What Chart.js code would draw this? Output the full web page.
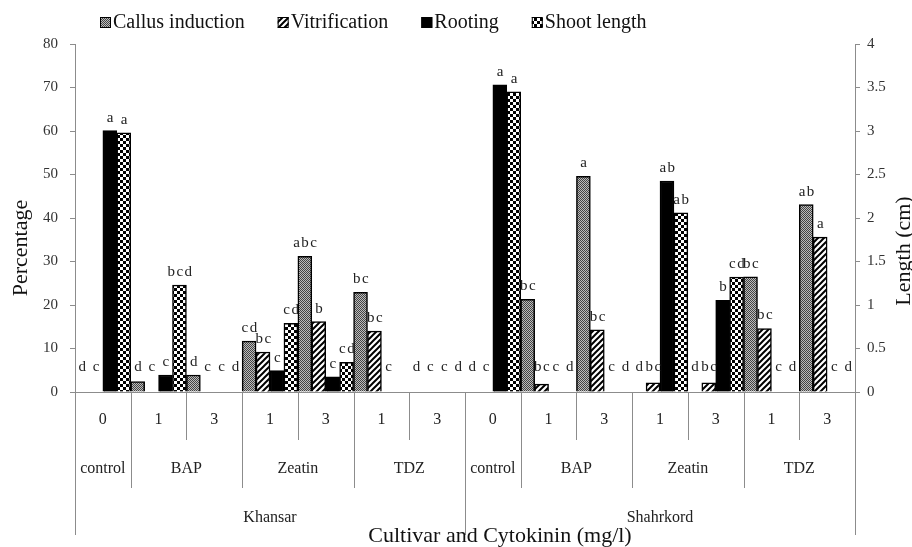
<!DOCTYPE html>
<html>
<head>
<meta charset="utf-8">
<script src="https://cdn.jsdelivr.net/npm/chart.js@4.4.1/dist/chart.umd.min.js"></script>
<style>
  body { margin: 0; background: #fff; }
  #wrap { width: 912px; height: 547px; }
</style>
</head>
<body>
<div id="wrap"><canvas id="myChart" width="912" height="547"></canvas></div>
<script>
// categories (three level x axis)
const doses      = ['0','1','3','1','3','1','3','0','1','3','1','3','1','3'];
const cytokinins = ['control','BAP','BAP','Zeatin','Zeatin','TDZ','TDZ',
                    'control','BAP','BAP','Zeatin','Zeatin','TDZ','TDZ'];
const cultivars  = ['Khansar','Khansar','Khansar','Khansar','Khansar','Khansar','Khansar',
                    'Shahrkord','Shahrkord','Shahrkord','Shahrkord','Shahrkord','Shahrkord','Shahrkord'];

// series (percentage axis)
const callus        = [0, 2.4, 3.9, 11.7, 31.2, 22.9, 0, 0, 21.3, 49.6, 0, 0, 26.5, 43.1];
const vitrification = [0, 0, 0, 9.2, 16.2, 14.0, 0, 0, 1.8, 14.3, 2.1, 2.1, 14.6, 35.6];
const rooting       = [60.1, 3.9, 0, 4.9, 3.5, 0, 0, 70.6, 0, 0, 48.5, 21.1, 0, 0];
// series (length axis, cm)
const shootLength   = [2.98, 1.23, 0, 0.79, 0.34, 0, 0, 3.45, 0, 0, 2.06, 1.32, 0, 0];

// significance letters above the bars
const callusLetters = ['d','d','d','cd','abc','bc','d','d','bc','a','d','d','bc','ab'];
const vitLetters    = ['c','c','c','bc','b','bc','c','c','bc','bc','bc','bc','bc','a'];
const rootLetters   = ['a','c','c','c','c','c','c','a','c','c','ab','b','c','c'];
const shootLetters  = ['a','bcd','d','cd','cd','','d','a','d','d','ab','cd','d','d'];

const leftTicks  = [0, 80, 10];
const rightTicks = [0, 4, 0.5];

const SERIF = '"Liberation Serif", "Times New Roman", serif';
const GRAY = '#8c8c8c';

const canvas = document.getElementById('myChart');
const ctx = canvas.getContext('2d');

function makePattern(size, draw) {
  const c = document.createElement('canvas');
  c.width = size; c.height = size;
  const g = c.getContext('2d');
  draw(g, size);
  return ctx.createPattern(c, 'repeat');
}

const dotted = makePattern(2, (g) => {
  g.fillStyle = '#bcbcbc'; g.fillRect(0, 0, 2, 2);
  g.fillStyle = '#444'; g.fillRect(0, 0, 1, 1); g.fillRect(1, 1, 1, 1);
});
const hatched = makePattern(6, (g, s) => {
  g.fillStyle = '#fff'; g.fillRect(0, 0, s, s);
  g.strokeStyle = '#000'; g.lineWidth = 2;
  g.beginPath();
  g.moveTo(0, s); g.lineTo(s, 0);
  g.moveTo(-2, 2); g.lineTo(2, -2);
  g.moveTo(s - 2, s + 2); g.lineTo(s + 2, s - 2);
  g.stroke();
});
const checker = makePattern(6, (g) => {
  g.fillStyle = '#fff'; g.fillRect(0, 0, 6, 6);
  g.fillStyle = '#000'; g.fillRect(0, 0, 3, 3); g.fillRect(3, 3, 3, 3);
});

const letters = [callusLetters, vitLetters, rootLetters, shootLetters];

const decorations = {
  id: 'decorations',
  afterDraw(chart) {
    const c = chart.ctx;
    const area = chart.chartArea;
    const xs = chart.scales.x;
    const n = doses.length;
    c.save();

    // letters above bars
    const zeroY = chart.scales.y.getPixelForValue(0);
    c.font = '15px ' + SERIF;
    c.fillStyle = '#222';
    c.textAlign = 'center';
    c.textBaseline = 'alphabetic';
    if ('letterSpacing' in c) c.letterSpacing = '1.5px';
    chart.data.datasets.forEach((ds, di) => {
      chart.getDatasetMeta(di).data.forEach((el, i) => {
        const t = letters[di][i];
        if (!t) return;
        const base = Math.min(el.y - 9, zeroY - 21);
        c.fillText(t, el.x + 1, base);
      });
    });
    if ('letterSpacing' in c) c.letterSpacing = '0px';

    // multi-level category axis
    const edge = (i) => {
      if (i === 0) return area.left;
      if (i === n) return area.right;
      return (xs.getPixelForValue(i - 1) + xs.getPixelForValue(i)) / 2;
    };
    c.strokeStyle = GRAY;
    c.lineWidth = 1;
    for (let i = 0; i <= n; i++) {
      let bottom = 440;
      if (i === 0 || i === n || cultivars[i] !== cultivars[i - 1]) bottom = 535;
      else if (cytokinins[i] !== cytokinins[i - 1]) bottom = 488;
      const x = Math.round(edge(i)) + 0.5;
      c.beginPath();
      c.moveTo(x, area.bottom);
      c.lineTo(x, bottom);
      c.stroke();
    }

    c.fillStyle = '#222';
    c.font = '16px ' + SERIF;
    c.textAlign = 'center';
    doses.forEach((d, i) => c.fillText(d, xs.getPixelForValue(i), 424));

    function runs(keyFn, y) {
      let start = 0;
      for (let i = 1; i <= n; i++) {
        if (i === n || keyFn(i) !== keyFn(start)) {
          const label = keyFn(start).split('|').pop();
          c.fillText(label, (edge(start) + edge(i)) / 2, y);
          start = i;
        }
      }
    }
    runs((i) => cultivars[i] + '|' + cytokinins[i], 473);
    runs((i) => cultivars[i], 522);

    // axis titles
    c.font = '22px ' + SERIF;
    c.fillStyle = '#111';
    c.fillText('Cultivar and Cytokinin (mg/l)', 500, 542);
    c.save();
    c.translate(27, 248);
    c.rotate(-Math.PI / 2);
    c.fillText('Percentage', 0, 0);
    c.restore();
    c.save();
    c.translate(910, 251);
    c.rotate(-Math.PI / 2);
    c.fillText('Length (cm)', 0, 0);
    c.restore();

    // legend
    c.font = '20px ' + SERIF;
    c.textAlign = 'left';
    let lx = 100;
    chart.data.datasets.forEach((ds) => {
      c.fillStyle = ds.backgroundColor;
      c.fillRect(lx, 17, 11, 11);
      c.strokeStyle = '#000';
      c.lineWidth = 1;
      c.strokeRect(lx + 0.5, 17.5, 10, 10);
      c.fillStyle = '#111';
      c.fillText(ds.label, lx + 13, 28);
      lx += 13 + c.measureText(ds.label).width + 33;
    });

    c.restore();
  }
};

new Chart(canvas, {
  type: 'bar',
  data: {
    labels: doses,
    datasets: [
      { label: 'Callus induction', data: callus, yAxisID: 'y', backgroundColor: dotted },
      { label: 'Vitrification', data: vitrification, yAxisID: 'y', backgroundColor: hatched },
      { label: 'Rooting', data: rooting, yAxisID: 'y', backgroundColor: '#000' },
      { label: 'Shoot length', data: shootLength, yAxisID: 'y2', backgroundColor: checker }
    ]
  },
  options: {
    responsive: false,
    animation: false,
    layout: { padding: { top: 44, left: 0, right: 0, bottom: 0 } },
    datasets: {
      bar: {
        categoryPercentage: 1.0,
        barPercentage: 1.0,
        borderColor: '#000',
        borderWidth: 1.5
      }
    },
    plugins: {
      legend: { display: false },
      tooltip: { enabled: false }
    },
    scales: {
      x: {
        grid: { display: false },
        ticks: { display: false },
        border: { color: GRAY },
        afterFit: (s) => { s.height = 155; }
      },
      y: {
        position: 'left',
        min: leftTicks[0], max: leftTicks[1],
        ticks: { stepSize: leftTicks[2], padding: 12, color: '#333', font: { family: SERIF, size: 15 } },
        grid: { drawOnChartArea: false, tickLength: 5, color: GRAY },
        border: { color: GRAY },
        afterFit: (s) => { s.width = 75; }
      },
      y2: {
        position: 'right',
        min: rightTicks[0], max: rightTicks[1],
        ticks: {
          stepSize: rightTicks[2], padding: 7, color: '#333',
          font: { family: SERIF, size: 15 },
          callback: (v) => String(v)
        },
        grid: { drawOnChartArea: false, tickLength: 5, color: GRAY },
        border: { color: GRAY },
        afterFit: (s) => { s.width = 57; }
      }
    }
  },
  plugins: [decorations]
});
</script>
</body>
</html>
